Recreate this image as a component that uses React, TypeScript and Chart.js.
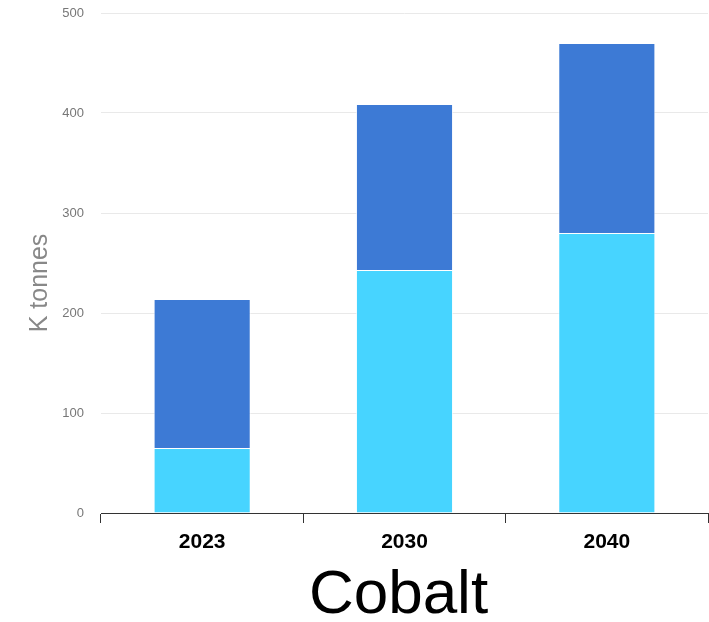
import React, { useEffect, useRef } from "react";
import { Chart, registerables } from "chart.js";

Chart.register(...registerables);

const years = ["2023", "2030", "2040"];
const lowerValues = [65, 243, 280];
const upperValues = [149, 166, 190];
const yTicks = [0, 100, 200, 300, 400, 500];
const yTitle = "K tonnes";
const xTitle = "Cobalt";

const FONT = "'Liberation Sans', Arial, Helvetica, sans-serif";

// Axis titles drawn by hand so they can sit slightly off the plot centre.
const axisTitles = {
  id: "axisTitles",
  afterDraw(chart: any) {
    const { ctx, chartArea } = chart;
    ctx.save();
    ctx.textAlign = "center";
    ctx.textBaseline = "middle";
    ctx.fillStyle = "#888888";
    ctx.font = `25px ${FONT}`;
    ctx.translate(40, (chartArea.top + chartArea.bottom) / 2 + 20);
    ctx.rotate(-Math.PI / 2);
    ctx.fillText(yTitle, 0, 0);
    ctx.restore();

    ctx.save();
    ctx.textAlign = "center";
    ctx.textBaseline = "middle";
    ctx.fillStyle = "#000000";
    ctx.font = `62px ${FONT}`;
    ctx.fillText(xTitle, (chartArea.left + chartArea.right) / 2 - 6, chartArea.bottom + 83);
    ctx.restore();
  },
};

export default function App() {
  const canvasRef = useRef<HTMLCanvasElement | null>(null);

  useEffect(() => {
    if (!canvasRef.current) return;
    const chart = new Chart(canvasRef.current, {
      type: "bar",
      data: {
        labels: years,
        datasets: [
          {
            label: "Lower",
            data: lowerValues,
            backgroundColor: "#47D4FF",
            borderColor: "rgba(255,255,255,0.7)",
            borderWidth: 1,
            barPercentage: 0.48,
            categoryPercentage: 1,
          },
          {
            label: "Upper",
            data: upperValues,
            backgroundColor: "#3D7AD5",
            borderColor: "rgba(255,255,255,0.7)",
            borderWidth: 1,
            barPercentage: 0.48,
            categoryPercentage: 1,
          },
        ],
      },
      options: {
        responsive: false,
        maintainAspectRatio: false,
        animation: false,
        layout: { padding: { top: 13, right: 1, bottom: 0, left: 0 } },
        plugins: {
          legend: { display: false },
          tooltip: { enabled: false },
        },
        scales: {
          x: {
            stacked: true,
            afterFit: (scale: any) => {
              scale.height = 109;
              scale.paddingTop = 0;
              scale.paddingBottom = 0;
            },
            grid: {
              display: true,
              drawOnChartArea: false,
              drawTicks: true,
              tickLength: 10,
              color: "#333333",
              offset: true,
            },
            border: { display: true, color: "#333333", width: 1 },
            ticks: {
              color: "#000000",
              padding: 7,
              font: { family: FONT, size: 21, weight: "bold" },
            },
          },
          y: {
            stacked: true,
            min: 0,
            max: 500,
            afterFit: (scale: any) => {
              scale.width = 101;
              scale.paddingTop = 0;
              scale.paddingBottom = 0;
            },
            afterBuildTicks: (scale: any) => {
              scale.ticks = yTicks.map((v) => ({ value: v }));
            },
            grid: {
              color: "#e9e9e9",
              drawTicks: false,
              tickLength: 0,
            },
            border: { display: false },
            ticks: {
              color: "#777777",
              padding: 17,
              font: { family: FONT, size: 13 },
            },
          },
        },
      },
      plugins: [axisTitles],
    });
    return () => chart.destroy();
  }, []);

  return (
    <div style={{ position: "absolute", left: 0, top: 0, width: 709, height: 622, background: "#ffffff" }}>
      <canvas ref={canvasRef} width={709} height={622} />
    </div>
  );
}
